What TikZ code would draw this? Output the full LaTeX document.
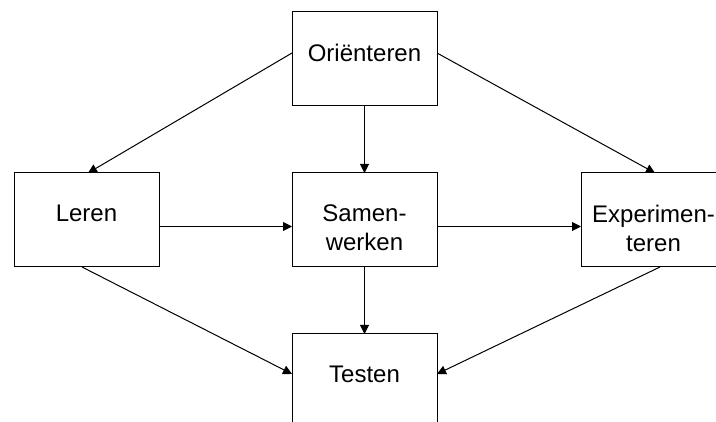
\documentclass[tikz,border=0pt]{standalone}
\usepackage{fontspec}
\setmainfont{Liberation Sans}
\usetikzlibrary{arrows.meta}
\begin{document}
\begin{tikzpicture}[x=1pt,y=-1pt,
  box/.style={draw=black, line width=1pt, minimum width=145pt, minimum height=94pt,
    inner sep=0pt, outer sep=0pt},
  boxtext/.style={anchor=north, inner sep=0pt, align=center,
    font=\fontsize{24}{29}\selectfont},
  link/.style={line width=1pt, -{Triangle[length=9pt,width=9pt]}}]
\clip (0,0) rectangle (716,422);

% phase boxes
\node[box] (O) at (364.5,59)  {};
\node[box] (L) at (86.5,220)  {};
\node[box] (S) at (364.5,220) {};
\node[box] (E) at (653.5,220) {};
\node[box] (T) at (364.5,381) {};

% box captions, set from the top of each box
\node[boxtext] (Ot) at ([yshift=-32pt]O.north) {Oriënteren};
\node[boxtext] (Lt) at ([yshift=-32pt]L.north) {Leren};
\node[boxtext] (St) at ([yshift=-32pt]S.north) {Samen-\\werken};
\node[boxtext] (Et) at ([yshift=-32pt]E.north) {Experimen-\\teren};
\node[boxtext] (Tt) at ([yshift=-32pt]T.north) {Testen};

% flow between the phases
\draw[link] ([yshift=6pt]O.west) -- ([xshift=1.5pt]L.north);
\draw[link] ([yshift=6pt]O.east) -- ([xshift=1.5pt]E.north);
\draw[link] (O.south) -- (S.north);
\draw[link] ([yshift=-6.5pt]L.east) -- ([yshift=-6.5pt]S.west);
\draw[link] ([yshift=-6.5pt]S.east) -- ([yshift=-6.5pt]E.west);
\draw[link] (S.south) -- (T.north);
\draw[link] ([xshift=-4.5pt]L.south) -- ([yshift=7pt]T.west);
\draw[link] ([xshift=6.5pt]E.south) -- ([yshift=7pt]T.east);
\end{tikzpicture}
\end{document}
